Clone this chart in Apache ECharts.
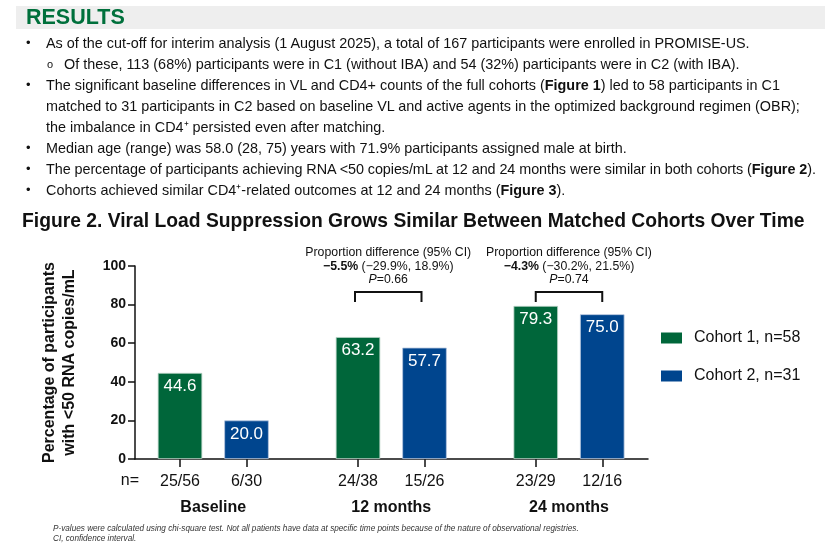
<!DOCTYPE html>
<html>
<head>
<meta charset="utf-8">
<script src="https://cdn.jsdelivr.net/npm/echarts@6/dist/echarts.min.js"></script>
<style>
  html, body { margin: 0; padding: 0; background: #fff; }
  body { width: 839px; height: 554px; position: relative; overflow: hidden; font-family: 'Liberation Sans', Arial, sans-serif; color: #111; }
  #chart { position: absolute; left: 0; top: 0; width: 839px; height: 554px; }
  .band { position: absolute; left: 16px; top: 6px; width: 809px; height: 23px; background: #eeeeee; }
  .head { position: absolute; left: 26px; top: 7px; font-size: 21.5px; font-weight: bold; color: #00703c; line-height: 21.5px; }
  .bullets { position: absolute; left: 0; top: 33px; font-size: 14.4px; line-height: 20.95px; white-space: nowrap; }
  .ln { position: relative; height: 20.95px; }
  .dot { position: absolute; left: 26px; font-size: 13px; }
  .sub { position: absolute; left: 47px; font-size: 11px; }
  .t1 { position: absolute; left: 46px; }
  .t2 { position: absolute; left: 64px; }
  .foot { position: absolute; left: 53px; top: 523.5px; font-size: 8.2px; line-height: 10px; font-style: italic; color: #333; white-space: nowrap; }
</style>
</head>
<body>
<div id="chart"></div>
<div class="band"></div>
<div class="head">RESULTS</div>
<div class="bullets">
  <div class="ln"><span class="dot">•</span><span class="t1">As of the cut-off for interim analysis (1 August 2025), a total of 167 participants were enrolled in PROMISE-US.</span></div>
  <div class="ln"><span class="sub">o</span><span class="t2">Of these, 113 (68%) participants were in C1 (without IBA) and 54 (32%) participants were in C2 (with IBA).</span></div>
  <div class="ln"><span class="dot">•</span><span class="t1">The significant baseline differences in VL and CD4+ counts of the full cohorts (<b>Figure 1</b>) led to 58 participants in C1</span></div>
  <div class="ln"><span class="t1">matched to 31 participants in C2 based on baseline VL and active agents in the optimized background regimen (OBR);</span></div>
  <div class="ln"><span class="t1">the imbalance in CD4⁺ persisted even after matching.</span></div>
  <div class="ln"><span class="dot">•</span><span class="t1">Median age (range) was 58.0 (28, 75) years with 71.9% participants assigned male at birth.</span></div>
  <div class="ln"><span class="dot">•</span><span class="t1" style="letter-spacing:-0.07px">The percentage of participants achieving RNA &lt;50 copies/mL at 12 and 24 months were similar in both cohorts (<b>Figure 2</b>).</span></div>
  <div class="ln"><span class="dot">•</span><span class="t1">Cohorts achieved similar CD4⁺-related outcomes at 12 and 24 months (<b>Figure 3</b>).</span></div>
</div>
<div class="foot">P-values were calculated using chi-square test. Not all patients have data at specific time points because of the nature of observational registries.<br>CI, confidence interval.</div>
<script>
var timepoints = ['Baseline', '12 months', '24 months'];
var cohort1 = [44.6, 63.2, 79.3];
var cohort2 = [20.0, 57.7, 75.0];
var nCohort1 = ['25/56', '24/38', '23/29'];
var nCohort2 = ['6/30', '15/26', '12/16'];
var cohortNames = ['Cohort 1, n=58', 'Cohort 2, n=31'];
var yTicks = [0, 20, 40, 60, 80, 100];
// proportion difference annotations for 12 and 24 months
var diffPct = ['\u22125.5%', '\u22124.3%'];
var diffCI = ['(\u221229.9%, 18.9%)', '(\u221230.2%, 21.5%)'];
var pValues = ['0.66', '0.74'];

var font = 'Liberation Sans';
var green = '#00663a';
var blue = '#00458e';
var subLeft = [146.75, 324.75, 502.5];

var grids = [{ left: 135, right: 191, top: 266, bottom: 95 }];
var xAxes = [{
  gridIndex: 0, type: 'value', min: 0, max: 1,
  axisLine: { lineStyle: { color: '#111', width: 1.5 } },
  axisTick: { show: false }, axisLabel: { show: false }, splitLine: { show: false }
}];
var yAxes = [{
  gridIndex: 0, type: 'value', min: yTicks[0], max: yTicks[yTicks.length - 1], interval: 20,
  name: 'Percentage of participants\nwith <50 RNA copies/mL',
  nameLocation: 'middle', nameGap: 55,
  nameTextStyle: { fontFamily: font, fontWeight: 'bold', fontSize: 16, color: '#111', lineHeight: 20 },
  axisLine: { show: true, lineStyle: { color: '#111', width: 1.5 } },
  axisTick: { show: true, length: 7, lineStyle: { color: '#111', width: 1.5 } },
  axisLabel: { fontFamily: font, fontWeight: 'bold', fontSize: 14, color: '#111', margin: 9 },
  splitLine: { show: false }
}];
var series = [];

for (var i = 0; i < timepoints.length; i++) {
  grids.push({ left: subLeft[i], width: 133, top: 266, bottom: 95 });
  xAxes.push({
    gridIndex: i + 1, type: 'category', data: [nCohort1[i], nCohort2[i]],
    name: timepoints[i], nameLocation: 'middle', nameGap: 41,
    nameTextStyle: { fontFamily: font, fontWeight: 'bold', fontSize: 16, color: '#111' },
    axisLine: { show: false },
    axisTick: { show: true, alignWithLabel: true, length: 8, lineStyle: { color: '#111', width: 1.5 } },
    axisLabel: { fontFamily: font, fontSize: 16, color: '#111', margin: 15 }
  });
  yAxes.push({ gridIndex: i + 1, type: 'value', min: 0, max: 100, show: false });
  var label = {
    show: true, position: 'insideTop', distance: 5,
    color: '#fff', fontFamily: font, fontSize: 17,
    formatter: function (p) { return p.value.toFixed(1); }
  };
  series.push({
    name: cohortNames[0], type: 'bar', xAxisIndex: i + 1, yAxisIndex: i + 1,
    data: [cohort1[i], '-'], barWidth: 44.5, barGap: '-100%',
    itemStyle: { color: green, borderColor: '#b9d3c6', borderWidth: 0.8 },
    label: label
  });
  series.push({
    name: cohortNames[1], type: 'bar', xAxisIndex: i + 1, yAxisIndex: i + 1,
    data: ['-', cohort2[i]], barWidth: 44.5, barGap: '-100%',
    itemStyle: { color: blue, borderColor: '#b6c6de', borderWidth: 0.8 },
    label: label
  });
}

var myChart = echarts.init(document.getElementById('chart'));
var option = {
  animation: false,
  title: {
    text: 'Figure 2. Viral Load Suppression Grows Similar Between Matched Cohorts Over Time',
    left: 17, top: 207,
    textStyle: { fontFamily: font, fontWeight: 'bold', fontSize: 19.3, color: '#111' }
  },
  legend: {
    data: cohortNames, orient: 'vertical', left: 656, top: 325,
    itemWidth: 21, itemHeight: 11, itemGap: 22,
    icon: 'rect',
    itemStyle: { borderWidth: 0 },
    textStyle: { fontFamily: font, fontSize: 16, color: '#111', padding: [0, 0, 0, 7] }
  },
  grid: grids,
  xAxis: xAxes,
  yAxis: yAxes,
  series: series
};
myChart.setOption(option);

// brackets and proportion-difference text above the 12 and 24 month pairs
var graphics = [{
  type: 'text', x: 139, y: 481,
  style: { text: 'n=', fontFamily: font, fontSize: 16, fill: '#111', align: 'right', verticalAlign: 'middle' }
}];
for (var k = 0; k < diffPct.length; k++) {
  var xa = myChart.convertToPixel({ xAxisIndex: k + 2 }, 0);
  var xb = myChart.convertToPixel({ xAxisIndex: k + 2 }, 1);
  var shift = k === 0 ? -3 : 0;
  var cx = (xa + xb) / 2 + shift;
  graphics.push({
    type: 'polyline',
    shape: { points: [[xa + shift, 302], [xa + shift, 292], [xb + shift, 292], [xb + shift, 302]] },
    style: { stroke: '#111', lineWidth: 2, fill: null }
  });
  graphics.push({
    type: 'text', x: cx, y: 253,
    style: { text: 'Proportion difference (95% CI)', fontFamily: font, fontSize: 12.3, fill: '#111', align: 'center', verticalAlign: 'middle' }
  });
  graphics.push({
    type: 'text', x: cx, y: 267,
    style: {
      text: '{b|' + diffPct[k] + '} ' + diffCI[k], fontFamily: font, fontSize: 12.3, fill: '#111',
      align: 'center', verticalAlign: 'middle',
      rich: { b: { fontFamily: font, fontSize: 12.3, fontWeight: 'bold', fill: '#111' } }
    }
  });
  graphics.push({
    type: 'text', x: cx, y: 280,
    style: {
      text: '{i|P}=' + pValues[k], fontFamily: font, fontSize: 12.3, fill: '#111',
      align: 'center', verticalAlign: 'middle',
      rich: { i: { fontFamily: font, fontSize: 12.3, fontStyle: 'italic', fill: '#111' } }
    }
  });
}
myChart.setOption({ graphic: graphics });
</script>
</body>
</html>
